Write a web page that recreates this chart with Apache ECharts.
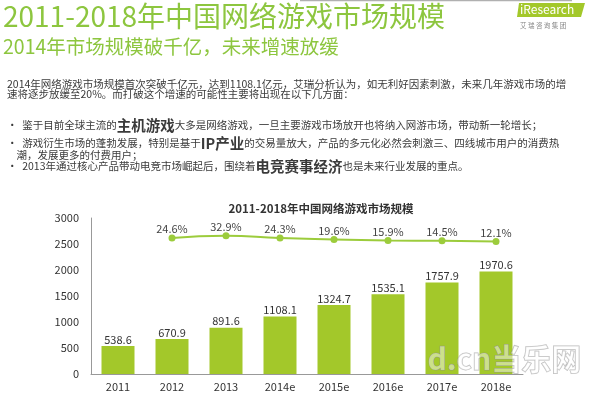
<!DOCTYPE html>
<html><head><meta charset="utf-8">
<script src="https://cdn.jsdelivr.net/npm/echarts@6/dist/echarts.min.js"></script>
<style>html,body{margin:0;padding:0;background:#fff}#c{width:600px;height:396px}</style>
</head><body><div id="c"></div>
<script>
const categories = ['2011','2012','2013','2014e','2015e','2016e','2017e','2018e'];
const marketSize = [538.6, 670.9, 891.6, 1108.1, 1324.7, 1535.1, 1757.9, 1970.6];
const growthRate = [null, 24.6, 32.9, 24.3, 19.6, 15.9, 14.5, 12.1];
const yTicks = [0, 500, 1000, 1500, 2000, 2500, 3000];

const F = '"Noto Sans CJK SC", "Noto Sans", sans-serif';
const GREEN = '#8dc63f';
const TXT = '#3a3a3a';
const rich = {
  n: {fontSize: 10.5, fontFamily: F, color: TXT, lineHeight: 14, verticalAlign: 'middle'},
  h: {fontSize: 14.5, fontFamily: F, fontWeight: 'bold', color: '#9ccb2e', lineHeight: 14, verticalAlign: 'middle'}
};
function line(x, y, str) {
  return {type: 'text', left: x, top: y, style: {text: str, rich: rich, font: '10.5px ' + F, fill: TXT, lineHeight: 14}};
}
const chart = echarts.init(document.getElementById('c'), null, {renderer: 'canvas'});
chart.setOption({
  animation: false,
  backgroundColor: '#fff',
  title: {
    text: '2011-2018年中国网络游戏市场规模',
    left: 316, top: 198, textAlign: 'center',
    textStyle: {fontSize: 11.5, fontWeight: 'bold', color: '#333', fontFamily: F}
  },
  grid: {left: 91, right: 77, top: 218, bottom: 22, containLabel: false},
  xAxis: {
    type: 'category', data: categories,
    axisLine: {lineStyle: {color: '#999'}},
    axisTick: {show: false},
    axisLabel: {color: '#333', fontSize: 11, fontFamily: F, margin: 7}
  },
  yAxis: [{
    type: 'value', min: yTicks[0], max: yTicks[yTicks.length - 1], interval: 500,
    axisLine: {show: true, lineStyle: {color: '#999'}},
    axisTick: {show: false},
    splitLine: {show: false},
    axisLabel: {color: '#333', fontSize: 11, fontFamily: F, margin: 12, formatter: v => String(v)}
  }, {
    type: 'value', min: -460, max: 96, show: false, splitLine: {show: false}
  }],
  series: [{
    type: 'bar', data: marketSize, barWidth: 33,
    itemStyle: {color: '#a3c82a'},
    label: {show: true, position: 'top', distance: 1, color: '#333', fontSize: 11, fontFamily: F,
      formatter: p => p.value.toFixed(1)}
  }, {
    type: 'line', yAxisIndex: 1, data: growthRate, smooth: true,
    symbol: 'circle', symbolSize: 7,
    lineStyle: {color: '#9ccc3c', width: 2},
    itemStyle: {color: '#9ccc3c'},
    label: {show: true, position: 'top', distance: 0, color: '#444', fontSize: 11, fontFamily: F,
      formatter: p => p.value.toFixed(1) + '%'}
  }],
  graphic: [
    {type: 'line', shape: {x1: 300, y1: 0.5, x2: 572, y2: 0.5}, style: {stroke: '#b0b0b0', lineWidth: 1.5}},
    {type: 'text', left: 3, top: 2, style: {text: '2011-2018年中国网络游戏市场规模', font: '28px ' + F, fill: GREEN}},
    {type: 'text', left: 3, top: 37, style: {text: '2014年市场规模破千亿，未来增速放缓', font: '19.5px ' + F, fill: GREEN}},
    {type: 'polygon', shape: {points: [[519, 3], [585, 3], [581, 17], [517, 17]]}, style: {fill: '#a3c82a'}},
    {type: 'text', left: 520, top: 3, style: {text: 'iResearch', font: '12px ' + F, fill: '#fff'}},
    {type: 'text', left: 520, top: 22, style: {text: '艾 瑞 咨 询 集 团', font: '6.5px ' + F, fill: '#888'}},
    line(7, 77, '{n|2014年网络游戏市场规模首次突破千亿元，达到1108.1亿元，艾瑞分析认为，如无利好因素刺激，未来几年游戏市场的增}'),
    line(7, 87, '{n|速将逐步放缓至20%。而打破这个增速的可能性主要将出现在以下几方面：}'),
    line(7, 118, '{n|•  鉴于目前全球主流的}{h|主机游戏}{n|大多是网络游戏，一旦主要游戏市场放开也将纳入网游市场，带动新一轮增长；}'),
    line(7, 136, '{n|•  游戏衍生市场的蓬勃发展，特别是基于}{h|IP产业}{n|的交易量放大，产品的多元化必然会刺激三、四线城市用户的消费热}'),
    line(7, 148, '{n|    潮，发展更多的付费用户；}'),
    line(7, 159, '{n|•  2013年通过核心产品带动电竞市场崛起后，围绕着}{h|电竞赛事经济}{n|也是未来行业发展的重点。}'),
    {type: 'text', left: 427, top: 343, z: 100, style: {text: 'd.cn当乐网', font: 'bold 30px ' + F, fill: 'rgba(255,255,255,0.45)', stroke: 'rgba(140,140,140,0.6)', lineWidth: 1}}
  ]
});
</script></body></html>
